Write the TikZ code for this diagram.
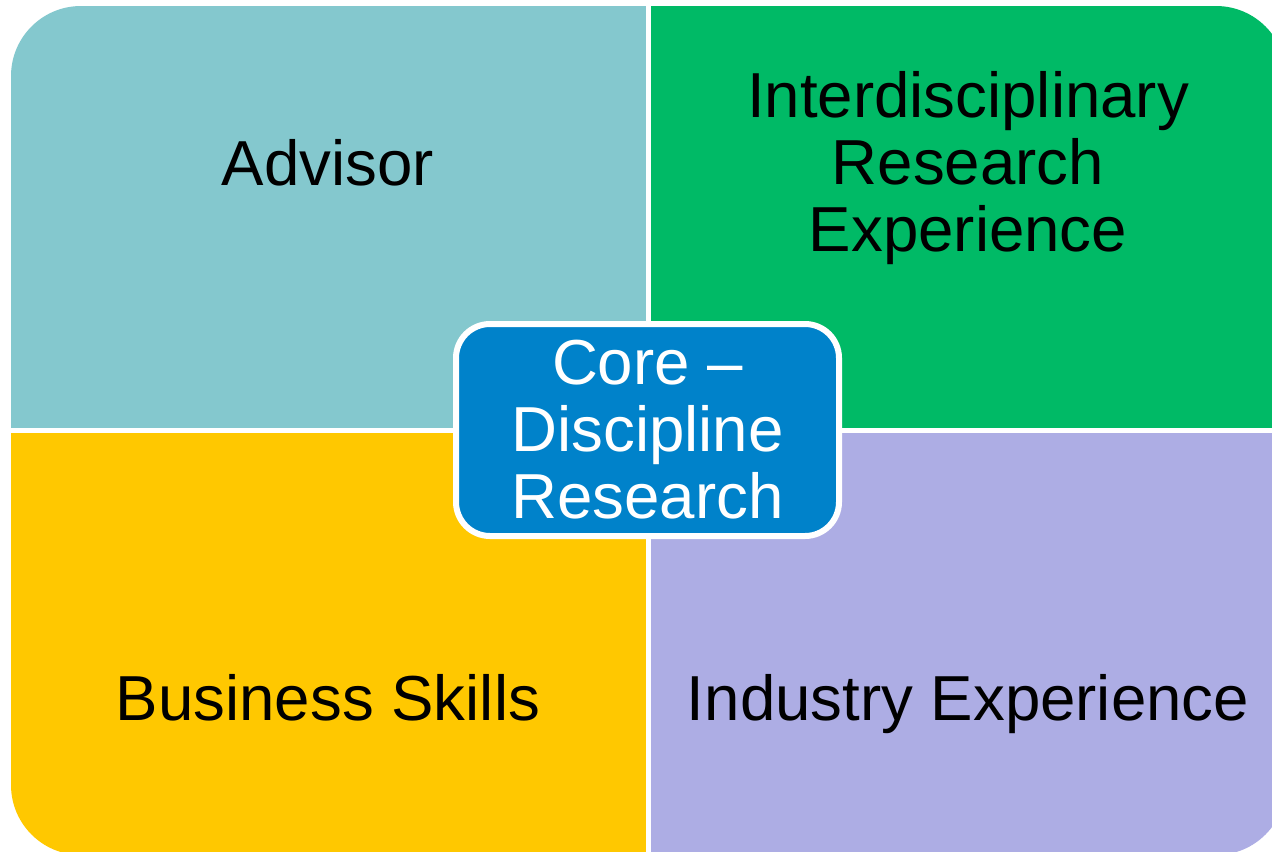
\documentclass[tikz,border=0pt]{standalone}
\usepackage{fontspec}
\setmainfont{Liberation Sans}
\usepackage{xcolor}
\usepackage{tikz}

\definecolor{advisorteal}{RGB}{132,200,206}
\definecolor{interdgreen}{RGB}{0,186,102}
\definecolor{businessgold}{RGB}{255,200,0}
\definecolor{industrylilac}{RGB}{173,173,228}
\definecolor{coreblue}{RGB}{0,130,202}

\tikzset{
	quadtext/.style = {anchor = base, align = center, inner sep = 0pt, text = black,
		font = \fontsize{31.8}{33.5}\selectfont},
	corebox/.style = {fill = coreblue, draw = white, line width = 3pt, rounded corners = 17pt,
		minimum width = 191.5pt, minimum height = 106pt, align = center, text = white,
		font = \fontsize{31.8}{33.5}\selectfont}
}

\begin{document}
\begin{tikzpicture}[x = 0.5pt, y = -0.5pt]
			\useasboundingbox (0,0) rectangle (1272,851);
			\fill [white] (0,0) rectangle (1272,851);

			\begin{scope}
				\clip (0,0) rectangle (1272,851);
				\clip [rounded corners = 35pt] (11,6) rectangle (1286,855);

				% four quarters, white gaps between them
				\fill [advisorteal] (11,6) rectangle (646,428);
				\fill [interdgreen] (651,6) rectangle (1286,428);
				\fill [businessgold] (11,433) rectangle (646,855);
				\fill [industrylilac] (651,433) rectangle (1286,855);
			\end{scope}

			% base of a multi-line node is its last line
			\node [quadtext] (advisor) at (328,185) {Advisor};
			\node [quadtext] (interdisc) at (968,251) {Interdisciplinary\\Research\\Experience};
			\node [quadtext] (business) at (328,720) {Business Skills};
			\node [quadtext] (industry) at (968,720) {Industry Experience};

			\node [corebox] (core) at (647.5,430) {Core --\\Discipline\\Research};
		\end{tikzpicture}
\end{document}
